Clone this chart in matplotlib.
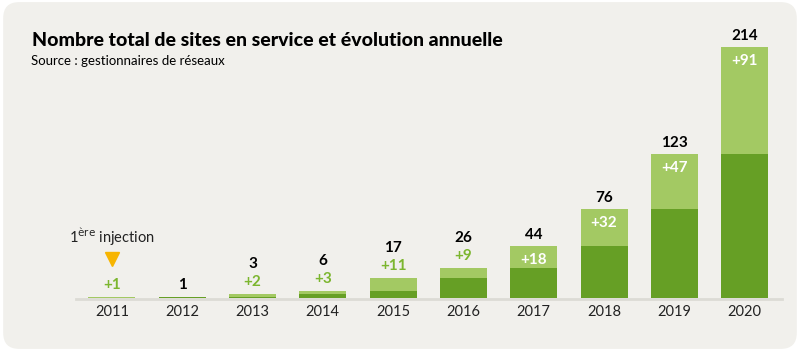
import matplotlib.pyplot as plt
import matplotlib.transforms as mtransforms
from matplotlib.patches import FancyBboxPatch

years = ["2011", "2012", "2013", "2014", "2015", "2016", "2017", "2018", "2019", "2020"]
totals = [1, 1, 3, 6, 17, 26, 44, 76, 123, 214]
increments = [1, 0, 2, 3, 11, 9, 18, 32, 47, 91]

DARK = "#669f25"
LIGHT = "#a3c963"
LABEL_GREEN = "#7cb62f"
BG = "#f1f0ec"

plt.rcParams["font.family"] = ["Lato", "DejaVu Sans"]

fig = plt.figure(figsize=(8, 3.51), dpi=100)
fig.patch.set_facecolor("white")
# rounded background card, behind the axes
card = FancyBboxPatch((0.004, 0.006), 0.992, 0.988,
                      boxstyle="round,pad=0,rounding_size=0.02",
                      transform=fig.transFigure, facecolor=BG,
                      edgecolor="none", mutation_aspect=800 / 351, zorder=-10)
fig.patches.append(card)

ax = fig.add_axes([76 / 800, 53 / 351, 706 / 800, 251 / 351])
ax.set_facecolor("none")
x = list(range(len(years)))
base = [t - i for t, i in zip(totals, increments)]

ax.bar(x, base, width=0.67, color=DARK, zorder=2)
ax.bar(x, increments, bottom=base, width=0.67, color=LIGHT, zorder=2)
# light baseline just under the bars
down = mtransforms.ScaledTranslation(0, -1 / 100, fig.dpi_scale_trans)
ax.plot([-0.51, 9.53], [0, 0], color="#dcdbd5", lw=2, zorder=1,
        transform=ax.transData + down, clip_on=False)

ax.set_xlim(-0.51, 9.53)
ax.set_ylim(0, 214)
for s in ax.spines.values():
    s.set_visible(False)
ax.set_yticks([])
ax.set_xticks(x)
ax.set_xticklabels(years, fontsize=10.5, color="#222222")
ax.tick_params(axis="x", length=0, pad=5)

for i, (t, inc) in enumerate(zip(totals, increments)):
    if inc >= 18:
        # increment inside the bar, total above
        ax.annotate(f"+{inc}", (i, t), xytext=(0, -14), textcoords="offset pixels",
                    ha="center", va="center", color="white", fontsize=11,
                    fontweight="bold", zorder=3)
        ax.annotate(str(t), (i, t), xytext=(0, 11), textcoords="offset pixels",
                    ha="center", va="center", color="black", fontsize=11,
                    fontweight="bold", annotation_clip=False)
    elif inc > 0:
        ax.annotate(f"+{inc}", (i, t), xytext=(0, 12), textcoords="offset pixels",
                    ha="center", va="center", color=LABEL_GREEN, fontsize=11,
                    fontweight="bold")
        if i > 0:
            ax.annotate(str(t), (i, t), xytext=(0, 30), textcoords="offset pixels",
                        ha="center", va="center", color="black", fontsize=11,
                        fontweight="bold")
    else:
        ax.annotate(str(t), (i, t), xytext=(0, 12), textcoords="offset pixels",
                    ha="center", va="center", color="black", fontsize=11,
                    fontweight="bold")

# first injection marker
shift = mtransforms.ScaledTranslation(0, 38 / 100, fig.dpi_scale_trans)
ax.plot([0], [totals[0]], marker="v", markersize=10, color="#f7b500",
        linestyle="none", transform=ax.transData + shift, clip_on=False)
ax.annotate("1$^{\\mathrm{ère}}$ injection", (0, totals[0]), xytext=(0, 60),
            textcoords="offset pixels", ha="center", va="center", fontsize=10.5,
            color="#222222")

fig.text(32 / 800, 1 - 40 / 351, "Nombre total de sites en service et évolution annuelle",
         fontsize=14, fontweight="black", color="black", va="center")
fig.text(31 / 800, 1 - 61 / 351, "Source : gestionnaires de réseaux",
         fontsize=9.5, color="black", va="center")

fig.savefig("out.png", dpi=100, facecolor=fig.get_facecolor())
